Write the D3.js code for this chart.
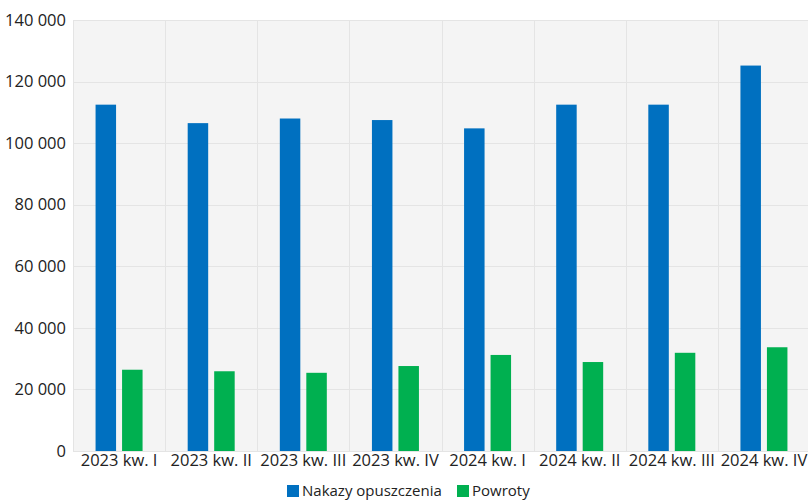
<!DOCTYPE html>
<html>
<head>
<meta charset="utf-8">
<script src="https://cdn.jsdelivr.net/npm/d3@7"></script>
<style>
  html, body { margin: 0; padding: 0; background: #fff; }
  svg { display: block; font-family: "Open Sans", "Noto Sans", sans-serif; }
</style>
</head>
<body>
<svg id="chart" width="808" height="502"></svg>
<script>
// Quarterly categories
const categories = ["2023 kw. I", "2023 kw. II", "2023 kw. III", "2023 kw. IV",
                    "2024 kw. I", "2024 kw. II", "2024 kw. III", "2024 kw. IV"];
// Series values
const nakazy  = [112500, 106500, 108000, 107500, 104800, 112500, 112500, 125200];
const powroty = [26400, 25900, 25400, 27600, 31200, 28900, 31900, 33700];
const seriesNames = ["Nakazy opuszczenia", "Powroty"];
const seriesColors = ["#0070C0", "#00B050"];
// Y-axis ticks
const yTicks = [0, 20000, 40000, 60000, 80000, 100000, 120000, 140000];

const svg = d3.select("#chart");
const m = { left: 73, right: -2, top: 20, bottom: 51 };
const W = 808, H = 502;
const plotBottom = H - m.bottom;
const textColor = "#222";

const x = d3.scaleBand().domain(categories).range([m.left, W - m.right]).paddingInner(0).paddingOuter(0);
const y = d3.scaleLinear().domain([0, 140000]).range([plotBottom, m.top]);

// plot background
svg.append("rect")
  .attr("x", m.left).attr("y", m.top)
  .attr("width", W - m.right - m.left).attr("height", plotBottom - m.top)
  .attr("fill", "#f4f4f4");

// horizontal gridlines
svg.append("g").selectAll("line").data(yTicks).join("line")
  .attr("x1", m.left).attr("x2", W - m.right)
  .attr("y1", d => Math.round(y(d)) + 0.5).attr("y2", d => Math.round(y(d)) + 0.5)
  .attr("stroke", "#e4e4e4").attr("stroke-width", 1);

// vertical category separators
svg.append("g").selectAll("line").data(categories).join("line")
  .attr("x1", d => Math.round(x(d)) + 0.5).attr("x2", d => Math.round(x(d)) + 0.5)
  .attr("y1", m.top).attr("y2", plotBottom)
  .attr("stroke", "#e4e4e4").attr("stroke-width", 1);

// grouped bars
const barW = 20.5, gap = 6;
const series = [nakazy, powroty];
series.forEach((vals, si) => {
  svg.append("g").selectAll("rect").data(categories).join("rect")
    .attr("x", (d) => x(d) + x.bandwidth() / 2 - gap / 2 - barW + si * (barW + gap))
    .attr("y", (d, i) => y(vals[i]))
    .attr("width", barW)
    .attr("height", (d, i) => plotBottom - y(vals[i]))
    .attr("fill", seriesColors[si]);
});

// y axis labels
const fmt = v => d3.format(",")(v).replace(/,/g, " ");
const yAxis = d3.axisLeft(y).tickValues(yTicks).tickFormat(fmt).tickSize(0).tickPadding(7);
svg.append("g").attr("transform", `translate(${m.left},0)`).call(yAxis)
  .call(g => g.select(".domain").remove())
  .call(g => g.selectAll("text").attr("font-size", 16.5).attr("fill", textColor)
    .attr("font-family", "'Open Sans', sans-serif"));

// x axis labels
const xAxis = d3.axisBottom(x).tickSize(0).tickPadding(3);
svg.append("g").attr("transform", `translate(0,${plotBottom})`).call(xAxis)
  .call(g => g.select(".domain").remove())
  .call(g => g.selectAll("text").attr("font-size", 16.5).attr("fill", textColor)
    .attr("font-family", "'Open Sans', sans-serif"));

// legend
const legend = svg.append("g").attr("transform", "translate(287,491)");
const items = [{ name: seriesNames[0], color: seriesColors[0], dx: 0 },
               { name: seriesNames[1], color: seriesColors[1], dx: 170 }];
items.forEach(it => {
  const g = legend.append("g").attr("transform", `translate(${it.dx},0)`);
  g.append("rect").attr("x", 0).attr("y", -6).attr("width", 12).attr("height", 12).attr("fill", it.color);
  g.append("text").attr("x", 15).attr("y", 0).attr("dy", "0.35em")
    .attr("font-size", 15).attr("fill", textColor).text(it.name);
});
</script>
</body>
</html>
